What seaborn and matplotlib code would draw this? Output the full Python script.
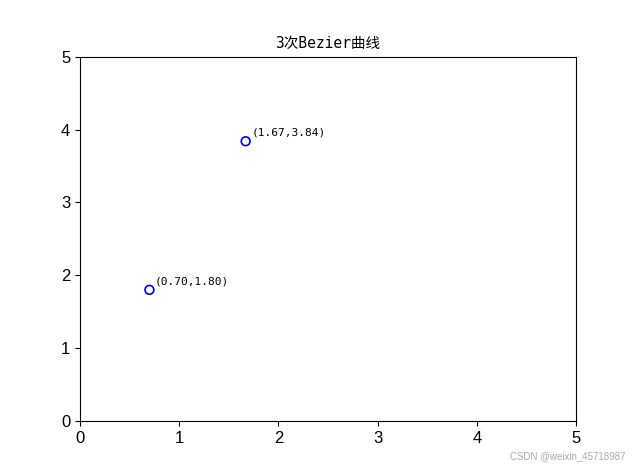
import pandas as pd
import matplotlib
matplotlib.use('Agg')
import matplotlib.pyplot as plt
import seaborn as sns

# Points on the curve
xs = [0.70, 1.67]
ys = [1.80, 3.84]
title = '3次Bezier曲线'
watermark = 'CSDN @weixin_45718987'

df = pd.DataFrame({'x': xs, 'y': ys})

fig, ax = plt.subplots(figsize=(6.4, 4.73), dpi=100)
sns.scatterplot(data=df, x='x', y='y', ax=ax, s=40, facecolors='none',
                edgecolor='blue', linewidth=1.2)

for x, y in zip(xs, ys):
    ax.annotate(f'({x:.2f},{y:.2f})', xy=(x, y), xytext=(4, 4),
                textcoords='offset points', fontsize=8,
                family=['DejaVu Sans Mono', 'Noto Sans CJK SC'])

ax.set_xlim(0, 5)
ax.set_ylim(0, 5)
ax.set_xlabel('')
ax.set_ylabel('')
ax.tick_params(labelsize=12)
for lab in ax.get_xticklabels() + ax.get_yticklabels():
    lab.set_family('Liberation Sans')
ax.set_title(title, fontsize=10.5, family=['DejaVu Sans Mono', 'Noto Sans CJK SC'])

fig.text(0.977, 0.025, watermark, ha='right', va='bottom', fontsize=7,
         color='#aaaaaa', family='Liberation Sans')

plt.savefig('out.png', dpi=100)
